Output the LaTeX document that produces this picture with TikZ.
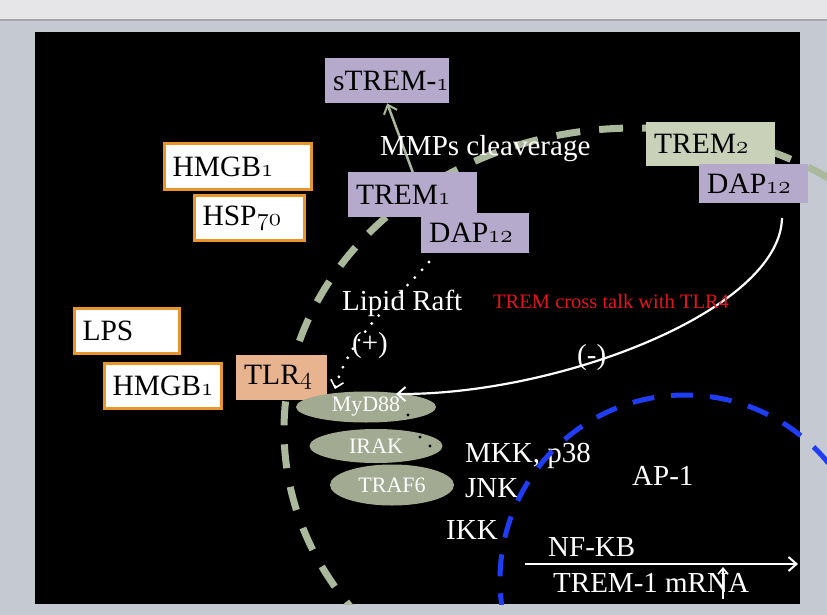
\documentclass[tikz,border=0pt]{standalone}
\usepackage{fontspec}
\setmainfont{Liberation Serif}
\usetikzlibrary{arrows.meta,shapes.geometric}
\newcommand\osf[1]{{\usefont{OML}{lmm}{m}{it}#1}}
\definecolor{bggray}{HTML}{C5C9D2}
\definecolor{tbar}{HTML}{E6E6E8}
\definecolor{tline}{HTML}{A8A8AC}
\definecolor{lav}{HTML}{B5AACB}
\definecolor{sage}{HTML}{C9D2B9}
\definecolor{membg}{HTML}{AAB89B}
\definecolor{ellg}{HTML}{A3AA92}
\definecolor{peach}{HTML}{E8B48F}
\definecolor{orng}{HTML}{E8952E}
\definecolor{nucb}{HTML}{1F3DF5}
\definecolor{redt}{HTML}{E3141E}
\tikzset{
  boxbase/.style={rectangle, anchor=north west, inner xsep=8pt, inner ysep=0pt, align=left,
    font=\fontsize{29.5}{31}\selectfont, text=black},
  lavbox/.style={boxbase, fill=lav},
  sagebox/.style={boxbase, fill=sage},
  whitebox/.style={boxbase, fill=white, draw=orng, line width=3pt},
  peachbox/.style={boxbase, fill=peach},
  prot/.style={ellipse, fill=ellg, text=white, inner sep=0pt, font=\fontsize{22}{24}\selectfont},
  wlab/.style={text=white, inner sep=0pt, anchor=base west, font=\fontsize{29}{33}\selectfont},
  memb/.style={draw=membg, line width=7pt, dash pattern=on 24pt off 19pt},
  nucl/.style={draw=nucb, line width=5pt, dash pattern=on 22pt off 17pt},
  barb/.style={-{Straight Barb[length=8pt,width=14pt,line width=2pt]}},
}
\begin{document}
\begin{tikzpicture}[x=1pt,y=-1pt]
\useasboundingbox (0,0) rectangle (827,615);
% window frame
\fill[bggray] (0,0) rectangle (827,615);
\fill[tbar] (0,0) rectangle (827,19);
\draw[tline, line width=1.5pt] (0,20) -- (827,20);
\fill[black] (35,32) rectangle (800,604);
% cell membrane
\begin{scope}
  \clip (0,0) rectangle (827,604);
  \draw[memb] (635,430) ellipse [x radius=351, y radius=302];
\end{scope}
% boxes
\node[lavbox, text width=108pt, minimum height=45pt] (strem) at (325,58) {\mbox{sTREM-\osf{1}}};
\node[lavbox, text width=113pt, minimum height=45pt] (trem1) at (348,172) {\mbox{TREM\osf{1}}};
\node[lavbox, text width=92pt, minimum height=40pt] (dapl) at (421,213) {\mbox{DAP\osf{12}}};
\node[sagebox, text width=113pt, minimum height=44pt] (trem2) at (646,122) {\mbox{TREM\osf{2}}};
\node[lavbox, text width=93pt, minimum height=39pt] (dapr) at (699,164) {\mbox{DAP\osf{12}}};
\node[whitebox, text width=131pt, minimum height=46pt] (hmgbt) at (163,142) {\mbox{HMGB\osf{1}}};
\node[whitebox, text width=94pt, minimum height=45pt] (hsp) at (193,194) {\mbox{HSP\osf{70}}};
\node[whitebox, text width=89pt, minimum height=45pt] (lps) at (73,307) {\mbox{LPS}};
\node[whitebox, text width=101pt, minimum height=45pt] (hmgbb) at (103,362) {\mbox{HMGB\osf{1}}};
\node[peachbox, text width=75pt, minimum height=45pt] (tlr4) at (236,355) {\mbox{TLR\osf{4}}};
% adaptor proteins
\node[prot, minimum width=140pt, minimum height=31pt] (myd) at (366,407) {MyD88};
\node[prot, minimum width=133pt, minimum height=34pt] (irak) at (376,446) {IRAK};
\node[prot, minimum width=124pt, minimum height=41pt] (traf) at (392,485) {TRAF6};
\fill[black] (408,415) circle (1.7) (420,437) circle (1.7) (430,446) circle (1.7);
% cleavage arrow
\draw[membg, line width=2.5pt, barb] (trem1.north) -- (strem.south);
% lipid raft dotted arrow
\coordinate (rs) at (429,262);
\coordinate (re) at (335,389);
\draw[white, line width=3.2pt, line cap=round, dash pattern=on 0pt off 10.5pt,
  -{Straight Barb[length=7pt,width=13pt,line width=1.6pt]}]
  (rs) .. controls (398,298) and (350,335) .. (re);
% inhibitory arrow from TREM2/DAP12
\coordinate (ts) at (782,218);
\coordinate (te) at (396,394);
\draw[white, line width=2.2pt, barb] (ts) .. controls (780,310) and (560,395) .. (te);
% labels
\node[wlab] (mmp) at (380,155) {MMPs cleaverage};
\node[wlab] (raft) at (342,310) {Lipid Raft};
\node[wlab] (plus) at (352,352) {(+)};
\node[wlab] (minus) at (577,364) {(-)};
\node[text=redt, inner sep=0pt, anchor=base west, font=\fontsize{20.5}{23}\selectfont] (cross) at (493,308) {TREM cross talk with TLR4};
\node[wlab] (mkk) at (465,462) {MKK, p38};
\node[wlab] (jnk) at (465,497) {JNK};
\node[wlab] (ikk) at (446,539) {IKK};
\node[wlab] (ap1) at (632,485) {AP-1};
\node[wlab] (nfkb) at (548,556) {NF-KB};
\node[wlab] (mrna) at (553,592) {TREM-1 mRNA};
% transcription arrow
\coordinate (n1) at (525,564);
\coordinate (n2) at (798,564);
\draw[white, line width=2.5pt, barb] (n1) -- (n2);
\coordinate (u1) at (723,599);
\coordinate (u2) at (723,567);
\draw[white, line width=2pt, -{Straight Barb[length=6pt,width=10pt,line width=1.6pt]}] (u1) -- (u2);
% nucleus
\begin{scope}
  \clip (0,0) rectangle (827,604);
  \draw[nucl] (685,580) circle [radius=185];
\end{scope}
\end{tikzpicture}
\end{document}
